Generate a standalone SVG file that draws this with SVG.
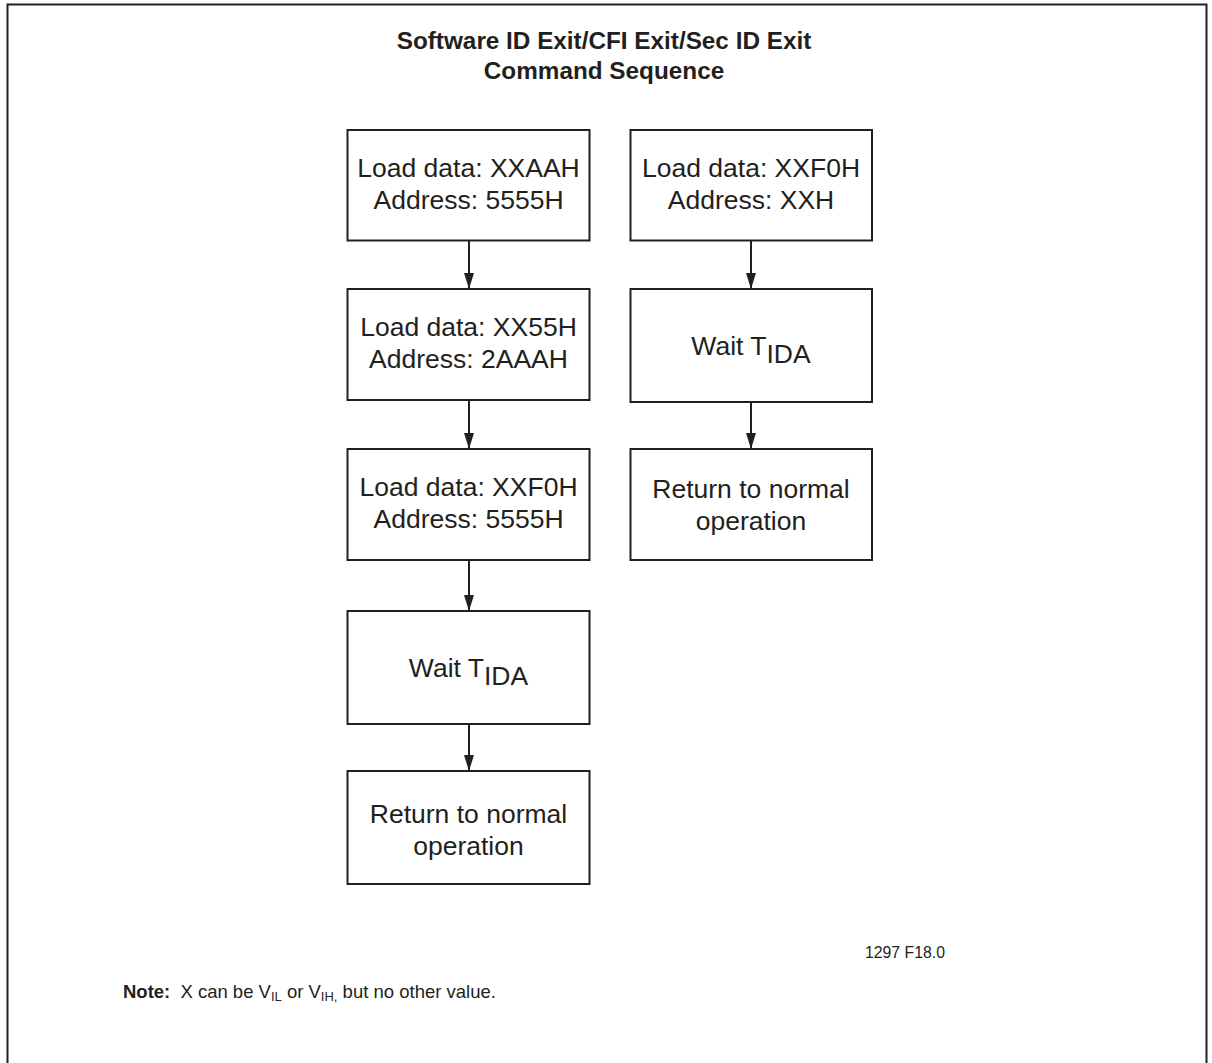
<svg xmlns="http://www.w3.org/2000/svg" width="1212" height="1063" viewBox="0 0 1212 1063">
<style>
.box{fill:#fff;stroke:#231f20;stroke-width:2}
.t{font-family:"Liberation Sans",Arial,sans-serif;font-size:26.5px;fill:#231f20;text-anchor:middle}
.title{font-family:"Liberation Sans",Arial,sans-serif;font-size:24.3px;font-weight:bold;fill:#231f20;text-anchor:middle}
.small{font-family:"Liberation Sans",Arial,sans-serif;fill:#231f20}
.conn{stroke:#231f20;stroke-width:2;fill:none}
</style>
<defs>
<marker id="ah" viewBox="0 0 16 10" refX="16" refY="5" markerWidth="16" markerHeight="10" markerUnits="userSpaceOnUse" orient="auto">
<path d="M0,0 L16,5 L0,10 Z" fill="#231f20"/>
</marker>
</defs>
<rect x="7.5" y="4.5" width="1199" height="1070" fill="#fff" stroke="#231f20" stroke-width="2"/>
<text class="title" x="604" y="49">Software ID Exit/CFI Exit/Sec ID Exit</text>
<text class="title" x="604" y="79">Command Sequence</text>
<g id="L1"><rect class="box" x="347.5" y="130" width="242" height="110.5"/><text class="t" x="468.5" y="177">Load data: XXAAH</text><text class="t" x="468.5" y="209">Address: 5555H</text></g>
<g id="L2"><rect class="box" x="347.5" y="289" width="242" height="111"/><text class="t" x="468.5" y="336">Load data: XX55H</text><text class="t" x="468.5" y="368">Address: 2AAAH</text></g>
<g id="L3"><rect class="box" x="347.5" y="449" width="242" height="111"/><text class="t" x="468.5" y="496">Load data: XXF0H</text><text class="t" x="468.5" y="528">Address: 5555H</text></g>
<g id="L4"><rect class="box" x="347.5" y="611" width="242" height="113"/><text class="t" x="468.5" y="677">Wait T<tspan dy="8">IDA</tspan></text></g>
<g id="L5"><rect class="box" x="347.5" y="771" width="242" height="113"/><text class="t" x="468.5" y="823">Return to normal</text><text class="t" x="468.5" y="855">operation</text></g>
<g id="R1"><rect class="box" x="630.5" y="130" width="241.5" height="110.5"/><text class="t" x="751" y="177">Load data: XXF0H</text><text class="t" x="751" y="209">Address: XXH</text></g>
<g id="R2"><rect class="box" x="630.5" y="289" width="241.5" height="113"/><text class="t" x="751" y="355">Wait T<tspan dy="8">IDA</tspan></text></g>
<g id="R3"><rect class="box" x="630.5" y="449" width="241.5" height="111"/><text class="t" x="751" y="498">Return to normal</text><text class="t" x="751" y="530">operation</text></g>
<g id="connectors">
<line class="conn" x1="469" y1="240.5" x2="469" y2="289" marker-end="url(#ah)"/>
<line class="conn" x1="469" y1="400" x2="469" y2="449" marker-end="url(#ah)"/>
<line class="conn" x1="469" y1="560" x2="469" y2="611" marker-end="url(#ah)"/>
<line class="conn" x1="469" y1="724" x2="469" y2="771" marker-end="url(#ah)"/>
<line class="conn" x1="751" y1="240.5" x2="751" y2="289" marker-end="url(#ah)"/>
<line class="conn" x1="751" y1="402" x2="751" y2="449" marker-end="url(#ah)"/>
</g>
<text class="small" x="865" y="958" font-size="15.8">1297 F18.0</text>
<text class="small" x="123" y="998" font-size="18.5"><tspan font-weight="bold">Note:</tspan><tspan dx="5"> X can be V</tspan><tspan font-size="13" dy="3">IL</tspan><tspan dy="-3"> or V</tspan><tspan font-size="13" dy="3">IH,</tspan><tspan dy="-3"> but no other value.</tspan></text>
</svg>
